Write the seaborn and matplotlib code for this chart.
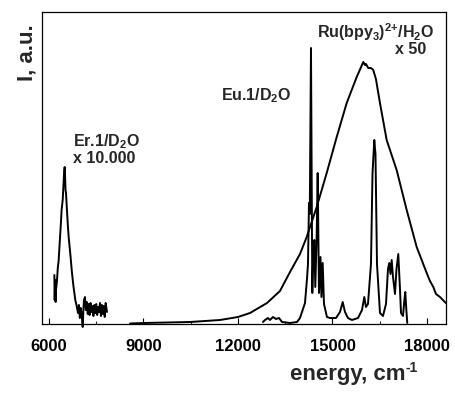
import matplotlib
matplotlib.use('Agg')
import matplotlib.pyplot as plt
import seaborn as sns

# ---- data (energy in cm^-1, intensity in arbitrary units) ----
er_energy = [6170, 6181, 6195, 6210, 6222, 6250, 6280, 6308, 6330, 6359, 6380, 6400,
             6435, 6460, 6480, 6498, 6510, 6525, 6540, 6570, 6600, 6625, 6680, 6730,
             6780, 6835, 6880, 6921, 6950, 6980, 7010, 7040, 7070, 7090, 7110, 7143,
             7170, 7200, 7230, 7260, 7290, 7320, 7350, 7380, 7410, 7440, 7470, 7500,
             7530, 7560, 7590, 7620, 7650, 7680, 7710, 7740, 7770, 7800, 7841]
er_intensity = [49, 24, 44, 22, 34, 42, 56, 64, 76, 91, 102, 114,
                124, 139, 152, 157, 149, 134, 131, 114, 98, 87, 69, 51,
                37, 24, 18, 11, 19, 6, 16, 8, -3, 12, 24, 27,
                14, 22, 10, 20, 9, 21, 12, 18, 8, 19, 11, 20,
                9, 17, 12, 21, 8, 19, 10, 18, 7, 21, 12]

ru_energy = [8572, 9000, 10477, 11430, 12000, 12382, 12922, 13334, 13652, 13969,
             14182, 14500, 14817, 15135, 15452, 15770, 15979, 16032, 16064, 16137,
             16222, 16295, 16380, 16508, 16721, 17038, 17357, 17674, 17992, 18096,
             18202, 18287, 18414, 18600]
ru_intensity = [0.5, 1, 2, 4, 7, 11, 21, 33, 52, 70,
                87, 117, 151, 187, 221, 247, 262, 259, 260, 256,
                256, 254, 245, 221, 184, 154, 114, 77, 51, 43,
                37, 30, 27, 21]

eu_energy = [12794, 12858, 12953, 13017, 13112, 13207, 13302, 13398, 13652, 13874,
             13969, 14064, 14128, 14191, 14223, 14255, 14280, 14318, 14360, 14382,
             14423, 14455, 14500, 14531, 14572, 14620, 14650, 14690, 14731, 14826,
             14922, 15112, 15239, 15325, 15398, 15493, 15620, 15811, 15938, 16011,
             16064, 16128, 16223, 16271, 16328, 16366, 16414, 16509, 16604, 16700,
             16763, 16804, 16842, 16880, 16922, 16985, 17033, 17090, 17144, 17176,
             17239, 17287, 17312, 17344, 17375]
eu_intensity = [2, 4, 6, 4, 7, 5, 6, 2, 1, 2,
                6, 15, 21, 45, 60, 121, 110, 276, 31, 60,
                84, 37, 90, 151, 31, 67, 27, 61, 20, 7,
                6, 6, 12, 22, 12, 6, 4, 6, 14, 27,
                17, 20, 60, 150, 184, 170, 60, 11, 8, 20,
                55, 61, 50, 64, 47, 30, 55, 70, 35, 11,
                8, 25, 32, 15, 1]

x_ticks = [6000, 9000, 12000, 15000, 18000]
x_minor = [7500, 10500, 13500, 16500]

# ---- style ----
sns.set_style('ticks')
plt.rcParams['font.family'] = ['Liberation Sans', 'DejaVu Sans']
plt.rcParams['font.weight'] = 'bold'
plt.rcParams['mathtext.fontset'] = 'custom'
plt.rcParams['mathtext.rm'] = 'Liberation Sans:bold'
plt.rcParams['mathtext.bf'] = 'Liberation Sans:bold'
plt.rcParams['mathtext.it'] = 'Liberation Sans:bold'
plt.rcParams['mathtext.sf'] = 'Liberation Sans:bold'
plt.rcParams['mathtext.default'] = 'rm'

W, H = 456, 399
fig = plt.figure(figsize=(W / 100, H / 100), dpi=100)
ax = fig.add_axes([42 / W, 75 / H, 404 / W, 312 / H])

for xs, ys in [(er_energy, er_intensity), (ru_energy, ru_intensity), (eu_energy, eu_intensity)]:
    sns.lineplot(x=xs, y=ys, ax=ax, color='black', linewidth=1.4,
                 estimator=None, sort=False)
for ln in ax.lines:
    ln.set_clip_on(False)

ax.set_xlim(5778, 18605)
ax.set_ylim(0, 312)
ax.set_xticks(x_ticks)
ax.set_xticklabels([str(t) for t in x_ticks])
ax.set_xticks(x_minor, minor=True)
ax.set_yticks([])
ax.tick_params(axis='x', which='major', direction='in', length=4, width=0.8,
               labelsize=12, pad=10.5, top=False, colors='black')
ax.tick_params(axis='x', which='minor', direction='in', length=2, width=0.8, top=False)
for lab in ax.get_xticklabels():
    lab.set_fontweight('bold')
for s in ax.spines.values():
    s.set_visible(True)
    s.set_linewidth(0.9)
    s.set_color('black')


def px(x, y):
    return x / W, 1 - y / H


fig.text(*px(27, 53), 'I, a.u.', rotation=90, ha='center', va='center',
         fontsize=16, fontweight='bold')

# x-axis title with a small hyphenated superscript
main = fig.text(*px(290, 380), 'energy, cm', ha='left', va='baseline',
                fontsize=16, fontweight='bold')
fig.canvas.draw()
bb = main.get_window_extent()
fig.text((bb.x1 + 0.5) / W, 1 - 372 / H, '-1', ha='left', va='baseline',
         fontsize=10, fontweight='bold')

fs = 11.5
fig.text(*px(72.7, 146.7), 'Er.1/D$_2$O', ha='left', va='baseline', fontsize=fs, fontweight='bold')
fig.text(*px(72.7, 162.7), 'x 10.000', ha='left', va='baseline', fontsize=fs, fontweight='bold')
fig.text(*px(221, 100.7), 'Eu.1/D$_2$O', ha='left', va='baseline', fontsize=fs, fontweight='bold')
fig.text(*px(317.3, 37.7), r'Ru(bpy$_3$)$^{\text{2+}}$/H$_2$O', ha='left', va='baseline', fontsize=fs, fontweight='bold')
fig.text(*px(395, 54.3), 'x 50', ha='left', va='baseline', fontsize=fs, fontweight='bold')

fig.savefig('out.png', dpi=100)
